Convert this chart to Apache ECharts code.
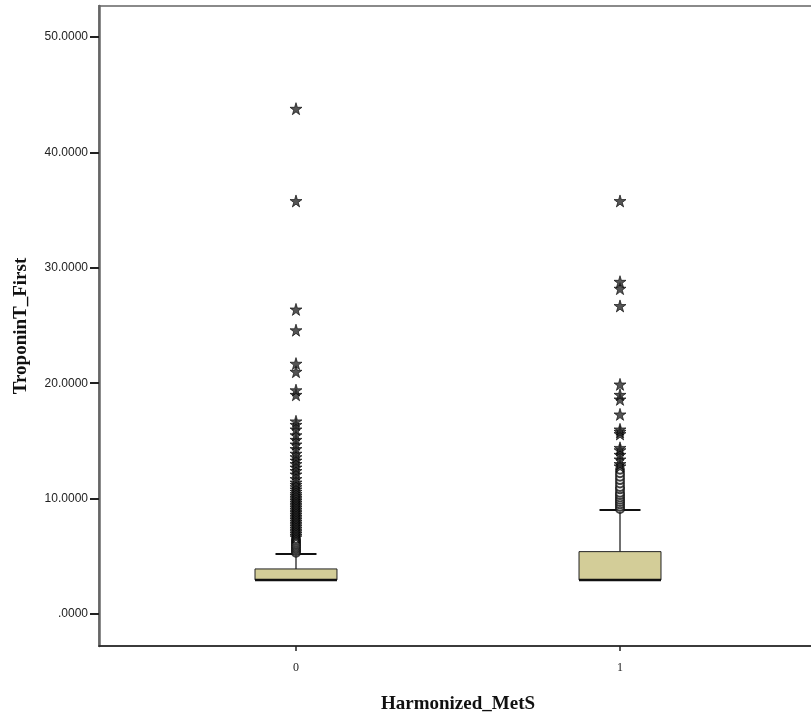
<!DOCTYPE html>
<html>
<head>
<meta charset="utf-8">
<script src="https://cdn.jsdelivr.net/npm/echarts@6/dist/echarts.min.js"></script>
<style>
html,body{margin:0;padding:0;background:#fff;}
#main{width:811px;height:716px;}
</style>
</head>
<body>
<div id="main"></div>
<script>
// 分组
var categories = ['0', '1'];
var yTicks = [0, 10, 20, 30, 40, 50];

// 箱线图统计量: 最小, Q1, 中位数, Q3, 最大
var box0 = [2.95, 2.95, 2.95, 3.9, 5.2];
var box1 = [2.95, 2.95, 2.95, 5.4, 9.0];

// 离群值 (圆圈)
var mild0 = [5.3, 5.45, 5.6, 5.75, 5.9, 6.05, 6.2, 6.35, 6.5];
var mild1 = [9.1, 9.3, 9.5, 9.7, 9.9, 10.1, 10.3, 10.5, 10.8, 11.0, 11.3, 11.6, 11.9, 12.2, 12.5];

// 极端值 (星号)
var extreme0 = [6.65, 6.8, 6.95, 7.1, 7.25, 7.4, 7.55, 7.7, 7.85, 8.0, 8.15, 8.3, 8.45, 8.6, 8.75,
  8.9, 9.05, 9.2, 9.35, 9.5, 9.65, 9.8, 9.95, 10.1, 10.25, 10.4, 10.6, 10.8, 11.0, 11.2, 11.4,
  11.7, 12.1, 12.4, 12.7, 13.0, 13.3, 13.6, 13.9, 14.3, 14.7, 15.1, 15.5, 16.0, 16.4, 16.7,
  19.0, 19.4, 21.0, 21.7, 24.6, 26.4, 35.8, 43.8];
var extreme1 = [12.8, 13.0, 13.4, 13.8, 14.2, 14.4, 15.6, 15.8, 16.0, 17.3, 18.6, 19.0, 19.9,
  26.7, 28.2, 28.8, 35.8];

var starPath = 'path://M50,0 L61,35 L98,35 L68,57 L79,91 L50,70 L21,91 L32,57 L2,35 L39,35 Z';

function toPoints(idx, arr){
  var out = [];
  for (var i = 0; i < arr.length; i++) {
    out.push([idx, arr[i]]);
  }
  return out;
}

function renderBox(params, api){
  var x = api.value(0);
  var mn = api.value(1), q1 = api.value(2), md = api.value(3), q3 = api.value(4), mx = api.value(5);
  var halfW = api.size([0.253, 0])[0] / 2;
  var capW = halfW / 2;
  var pTop = api.coord([x, q3]);
  var pBot = api.coord([x, q1]);
  var pMax = api.coord([x, mx]);
  var pMin = api.coord([x, mn]);
  var pMed = api.coord([x, md]);
  return {
    type: 'group',
    children: [
      {type: 'line', shape: {x1: pMax[0], y1: pMax[1], x2: pTop[0], y2: pTop[1]},
        style: {stroke: '#111', lineWidth: 1.2}},
      {type: 'line', shape: {x1: pMin[0], y1: pMin[1], x2: pBot[0], y2: pBot[1]},
        style: {stroke: '#111', lineWidth: 1.2}},
      {type: 'rect', shape: {x: pTop[0] - halfW, y: pTop[1], width: halfW * 2, height: pBot[1] - pTop[1]},
        style: {fill: '#d3cd98', stroke: '#222', lineWidth: 1}},
      {type: 'line', shape: {x1: pMed[0] - halfW, y1: pMed[1], x2: pMed[0] + halfW, y2: pMed[1]},
        style: {stroke: '#111', lineWidth: 2.5}},
      {type: 'line', shape: {x1: pMax[0] - capW, y1: pMax[1], x2: pMax[0] + capW, y2: pMax[1]},
        style: {stroke: '#111', lineWidth: 2}, z2: 10}
    ]
  };
}

var myChart = echarts.init(document.getElementById('main'));

var option = {
  backgroundColor: '#fff',
  animation: false,
  grid: {
    left: 99, top: 6, right: -6, bottom: 70,
    outerBoundsMode: 'none',
    containLabel: false,
    show: true, borderColor: '#8a8a8a', borderWidth: 2, backgroundColor: '#fff'
  },
  xAxis: {
    type: 'value',
    min: -0.608, max: 1.608,
    name: 'Harmonized_MetS',
    nameLocation: 'middle',
    nameGap: 49,
    nameTextStyle: {fontFamily: 'Liberation Serif', fontWeight: 'bold', fontSize: 19, color: '#111'},
    splitLine: {show: false},
    axisLine: {show: true, onZero: false, lineStyle: {color: '#222', width: 1.5}},
    axisTick: {show: true, length: 5, customValues: [0, 1], lineStyle: {color: '#222', width: 1.5}},
    axisLabel: {
      customValues: [0, 1], margin: 16,
      fontFamily: 'Liberation Serif', fontSize: 12, color: '#222',
      formatter: function(v){ return categories[Math.round(v)]; }
    }
  },
  yAxis: {
    type: 'value',
    min: -2.78, max: 52.7,
    name: 'TroponinT_First',
    nameLocation: 'middle',
    nameGap: 68,
    nameRotate: 90,
    nameTextStyle: {fontFamily: 'Liberation Serif', fontWeight: 'bold', fontSize: 19, color: '#111'},
    splitLine: {show: false},
    axisLine: {show: true, onZero: false, lineStyle: {color: '#666', width: 2.5}},
    axisTick: {show: true, length: 9, customValues: yTicks, lineStyle: {color: '#222', width: 2}},
    axisLabel: {
      customValues: yTicks, margin: 11,
      fontFamily: 'Liberation Sans', fontSize: 12, color: '#222',
      formatter: function(v){ return v === 0 ? '.0000' : v.toFixed(4); }
    }
  },
  series: [
    {
      type: 'custom',
      renderItem: renderBox,
      encode: {x: 0, y: [1, 2, 3, 4, 5]},
      data: [[0].concat(box0), [1].concat(box1)],
      z: 2
    },
    {
      type: 'scatter',
      symbol: 'emptyCircle',
      symbolSize: 8,
      itemStyle: {color: '#111', borderWidth: 1.4},
      data: toPoints(0, mild0).concat(toPoints(1, mild1)),
      z: 3
    },
    {
      type: 'scatter',
      symbol: starPath,
      symbolSize: 12,
      itemStyle: {color: '#2a2a2a', borderColor: '#000', borderWidth: 0.8},
      data: toPoints(0, extreme0).concat(toPoints(1, extreme1)),
      z: 4
    }
  ]
};

myChart.setOption(option);
</script>
</body>
</html>
